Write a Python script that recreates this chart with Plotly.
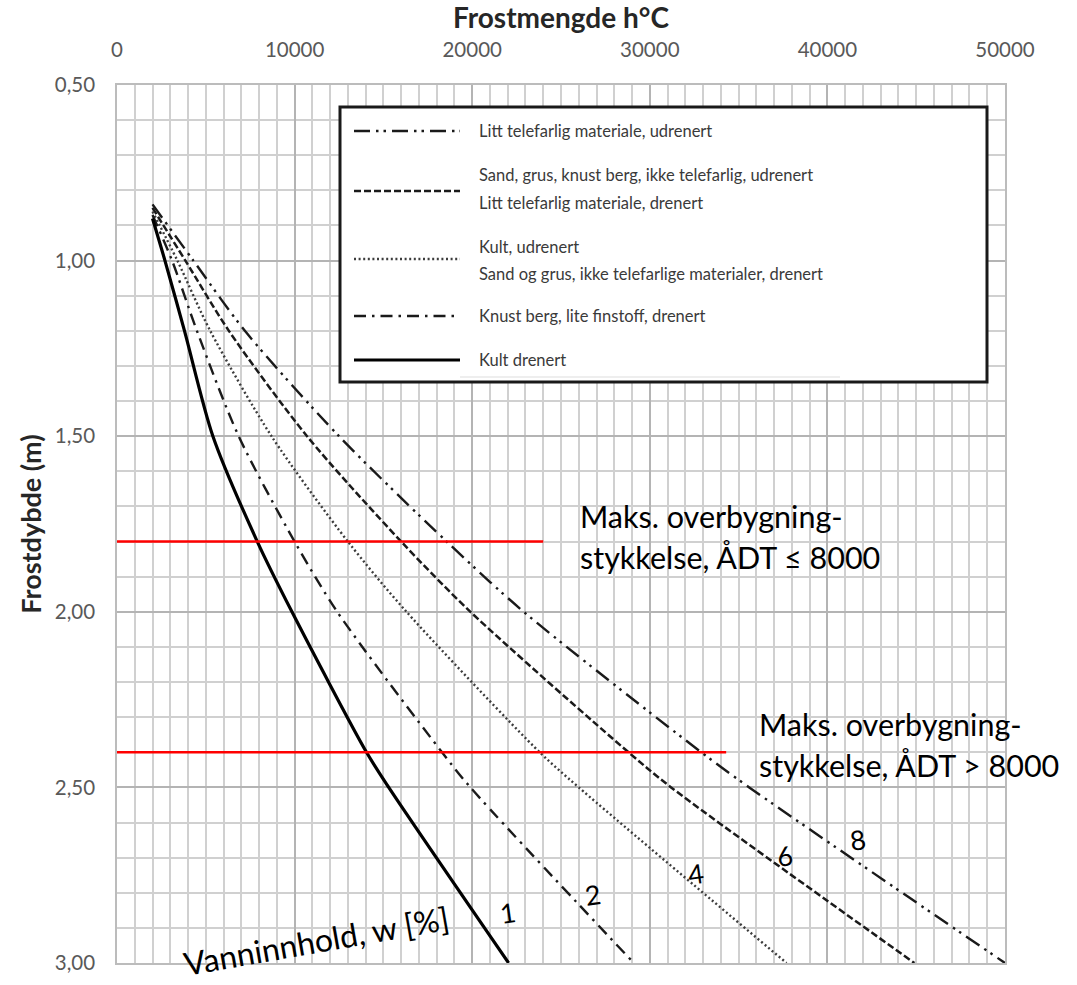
import plotly.graph_objects as go

# ---------------- data ----------------
depth_1 = [0.88, 1.00, 1.20, 1.50, 1.80, 2.00, 2.40, 2.50, 3.00]
frost_1 = [2000, 2700, 3800, 5400, 7900, 9850, 14050, 15300, 22050]

depth_2 = [0.87, 1.00, 1.20, 1.50, 1.80, 2.00, 2.40, 2.50, 3.00]
frost_2 = [2000, 3100, 4500, 6850, 10000, 12400, 18300, 19900, 29100]

depth_4 = [0.86, 1.00, 1.20, 1.50, 1.80, 2.00, 2.40, 2.50, 3.00]
frost_4 = [2000, 3400, 5250, 8700, 13000, 16300, 23800, 26000, 37700]

depth_6 = [0.85, 1.00, 1.20, 1.50, 1.80, 2.00, 2.40, 2.50, 3.00]
frost_6 = [2000, 3850, 6300, 10700, 16000, 19900, 28800, 31200, 44900]

depth_8 = [0.84, 1.00, 1.20, 1.50, 1.80, 2.00, 2.40, 2.50, 3.00]
frost_8 = [2000, 4300, 7200, 12500, 18560, 22900, 32900, 35600, 50000]

legend_labels = [
    ["Litt telefarlig materiale, udrenert"],
    ["Sand, grus, knust berg, ikke telefarlig, udrenert", "Litt telefarlig materiale, drenert"],
    ["Kult, udrenert", "Sand og grus, ikke telefarlige materialer, drenert"],
    ["Knust berg, lite finstoff, drenert"],
    ["Kult drenert"],
]

curve_labels = ["1", "2", "4", "6", "8"]
curve_label_x = [22000, 26800, 32600, 37600, 41700]
curve_label_y = [2.855, 2.805, 2.745, 2.695, 2.648]

red_depths = [1.80, 2.40]
red_ends = [24000, 34300]
red_text = [["Maks. overbygning-", "stykkelse, ÅDT ≤ 8000"],
            ["Maks. overbygning-", "stykkelse, ÅDT > 8000"]]

# ---------------- styles ----------------
FONT = "Lato"
styles = {
    "8": dict(color="#1a1a1a", width=2.4, dash="16px,6px,2.5px,5px,2.5px,6px"),
    "6": dict(color="#1a1a1a", width=2.5, dash="7px,3px"),
    "4": dict(color="#3c3c3c", width=2.4, dash="2px,2.6px"),
    "2": dict(color="#1a1a1a", width=2.4, dash="12px,6px,2.5px,6px"),
    "1": dict(color="#000000", width=3.2, dash="solid"),
}

fig = go.Figure()
series = [("8", frost_8, depth_8, legend_labels[0]),
          ("6", frost_6, depth_6, legend_labels[1]),
          ("4", frost_4, depth_4, legend_labels[2]),
          ("2", frost_2, depth_2, legend_labels[3]),
          ("1", frost_1, depth_1, legend_labels[4])]
for key, xs, ys, lab in series:
    fig.add_trace(go.Scatter(x=xs, y=ys, mode="lines", name=" / ".join(lab),
                             line=dict(shape="spline", smoothing=0.8, **styles[key]),
                             showlegend=False, hoverinfo="skip"))

# red lines
for d, e in zip(red_depths, red_ends):
    fig.add_trace(go.Scatter(x=[0, e], y=[d, d], mode="lines", showlegend=False,
                             line=dict(color="#ff0000", width=2.5), hoverinfo="skip",
                             cliponaxis=False))

W, H = 1077, 985
L, R, T, B = 117, 72, 85, 22
PW, PH = W - L - R, H - T - B


def px(x):
    return (x - L) / PW


def py(y):
    return (H - B - y) / PH


shapes = []
annotations = []

# legend box
shapes.append(dict(type="rect", xref="paper", yref="paper",
                   x0=px(340), x1=px(987), y0=py(382), y1=py(107),
                   fillcolor="white", line=dict(color="#1a1a1a", width=3), layer="above"))
shapes.append(dict(type="line", xref="paper", yref="paper",
                   x0=px(460), x1=px(840), y0=py(377), y1=py(377),
                   line=dict(color="#dddddd", width=1), layer="above"))

row_line_y = [131, 191, 259, 316, 360]
row_text_y = [[131], [175, 203], [247, 274], [316], [360]]
keys = ["8", "6", "4", "2", "1"]
for k, ly, tys, labs in zip(keys, row_line_y, row_text_y, legend_labels):
    st = styles[k]
    shapes.append(dict(type="line", xref="paper", yref="paper",
                       x0=px(354), x1=px(460), y0=py(ly), y1=py(ly),
                       line=dict(color=st["color"], width=st["width"], dash=st["dash"]),
                       layer="above"))
    for ty, t in zip(tys, labs):
        annotations.append(dict(xref="paper", yref="paper", x=px(477), y=py(ty),
                                text=t, showarrow=False, xanchor="left", yanchor="middle",
                                font=dict(family=FONT, size=16.5, color="#3a3a3a")))

# red-line texts
text_pos = [(578, [516, 557]), (757, [724, 765])]
for (tx, tys), lines in zip(text_pos, red_text):
    for ty, t in zip(tys, lines):
        annotations.append(dict(xref="paper", yref="paper", x=px(tx), y=py(ty),
                                text=t, showarrow=False, xanchor="left", yanchor="middle",
                                font=dict(family=FONT, size=30.5, color="#000000")))

# curve labels
for t, cx, cy in zip(curve_labels, curve_label_x, curve_label_y):
    annotations.append(dict(xref="x", yref="y", x=cx, y=cy, text=t, showarrow=False,
                            xanchor="center", yanchor="middle", textangle=-8,
                            font=dict(family=FONT, size=27, color="#000000")))

annotations.append(dict(xref="paper", yref="paper", x=px(316), y=py(940),
                        text="Vanninnhold, w [%]", showarrow=False,
                        xanchor="center", yanchor="middle", textangle=-10,
                        font=dict(family=FONT, size=32, color="#000000")))

fig.update_layout(
    width=W, height=H, autosize=False,
    margin=dict(l=L, r=R, t=T, b=B, pad=0),
    paper_bgcolor="white", plot_bgcolor="white",
    separators=",.",
    shapes=shapes, annotations=annotations,
    font=dict(family=FONT),
    xaxis=dict(side="top", range=[0, 50000], dtick=10000, tick0=0, tickformat="d",
               automargin=False,
               showgrid=True, gridcolor="#b4b4b4", gridwidth=1.6,
               minor=dict(dtick=1000, showgrid=True, gridcolor="#d0d0d0", gridwidth=1.6),
               ticks="outside", ticklen=18, tickcolor="rgba(0,0,0,0)",
               tickfont=dict(family=FONT, size=20.5, color="#595959"),
               showline=True, linecolor="#bcbcbc", linewidth=1.6, mirror=True,
               zeroline=False,
               title=dict(text="<b>Frostmengde h°C</b>", standoff=4,
                          font=dict(family=FONT, size=28, color="#262626"))),
    yaxis=dict(range=[3.0, 0.5], dtick=0.5, tick0=0, tickformat=".2f",
               automargin=False,
               showgrid=True, gridcolor="#b4b4b4", gridwidth=1.6,
               minor=dict(dtick=0.1, showgrid=True, gridcolor="#d0d0d0", gridwidth=1.6),
               ticks="outside", ticklen=16, tickcolor="rgba(0,0,0,0)",
               tickfont=dict(family=FONT, size=20.5, color="#595959"),
               showline=True, linecolor="#bcbcbc", linewidth=1.6, mirror=True,
               zeroline=False,
               title=dict(text="<b>Frostdybde (m)</b>", standoff=5,
                          font=dict(family=FONT, size=27, color="#262626"))),
)

fig.write_html("out.html", config={"displayModeBar": False},
               post_script="document.body.style.margin='0px';")
